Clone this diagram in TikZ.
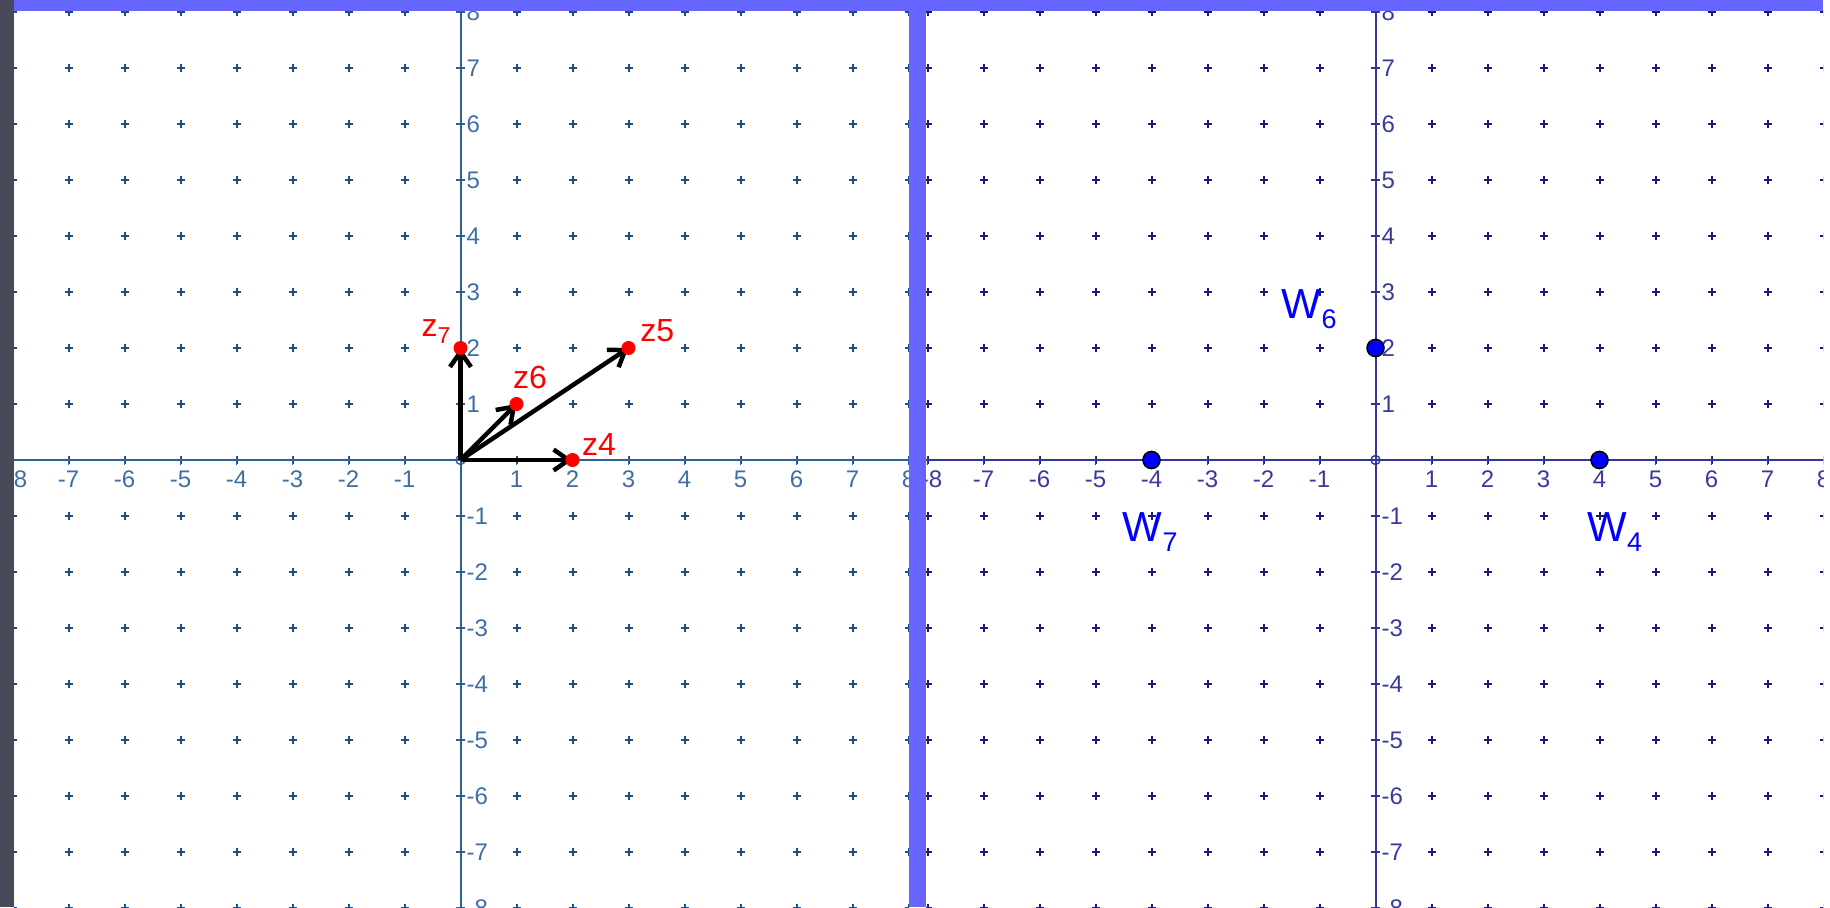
\documentclass[tikz,border=0pt]{standalone}
\usepackage{fontspec}
\setmainfont{Liberation Sans}
\usetikzlibrary{arrows.meta}
\definecolor{darkbar}{HTML}{484A5A}
\definecolor{barc}{HTML}{6666FF}
\definecolor{axLc}{HTML}{2D5F9B}
\definecolor{gridLc}{HTML}{1E4C85}
\definecolor{labLc}{HTML}{3F6FA5}
\definecolor{axRc}{HTML}{34349A}
\definecolor{gridRc}{HTML}{1C1C80}
\definecolor{labRc}{HTML}{3A3A9E}
\definecolor{zred}{HTML}{FF0000}
\definecolor{wblue}{HTML}{0000FF}
\begin{document}
\begin{tikzpicture}[x=1pt,y=-1pt,
  gridL/.style={draw=gridLc,line width=2pt},
  gridR/.style={draw=gridRc,line width=2pt},
  axL/.style={draw=axLc,line width=2pt},
  axR/.style={draw=axRc,line width=2pt},
  ticklabL/.style={text=labLc,inner sep=0pt,font=\fontsize{24}{24}\selectfont},
  ticklabR/.style={text=labRc,inner sep=0pt,font=\fontsize{24}{24}\selectfont},
  vec/.style={draw=black,line width=4.5pt,-{Straight Barb[length=15pt,width=21pt]}},
  zdot/.style={circle,fill=zred,inner sep=0pt,minimum size=14pt},
  wdot/.style={circle,fill=wblue,draw=black,line width=1.6pt,inner sep=0pt,minimum size=17pt},
  zlab/.style={text=zred,inner sep=0pt,anchor=base west,font=\fontsize{32}{32}\selectfont},
  wlab/.style={text=wblue,inner sep=0pt,anchor=base west,font=\fontsize{42}{42}\selectfont}]
\useasboundingbox (0,0) rectangle (1830,907);
\fill[white] (0,0) rectangle (1830,907);

% ---------------- left panel ----------------
\begin{scope}
\clip (14,11) rectangle (909,907);
\begin{scope}[shift={(460.5,460)},x=56pt,y=56pt]
  \foreach \i in {-8,...,8}{\foreach \j in {-8,...,8}{
    \draw[gridL] (\i,\j) ++(-4pt,0) -- ++(8pt,0);
    \draw[gridL] (\i,\j) ++(0,-4pt) -- ++(0,8pt);}}
  \draw[axL] (-9,0) -- (9,0);
  \draw[axL] (0,-9) -- (0,9);
  \foreach \i in {-8,...,8}{
    \draw[axL,line width=1.8pt] (\i,0) ++(0,-4.5pt) -- ++(0,9pt);
    \draw[axL,line width=1.8pt] (0,\i) ++(-4.5pt,0) -- ++(9pt,0);}
  \draw[axL,line width=1.4pt] (0,0) circle[radius=4.5pt];
  \foreach \i in {-7,...,-1,1,2,...,8}{
    \node[ticklabL,anchor=north,yshift=-11pt] (lxL\i) at (\i,0) {\i};}
  \node[ticklabL,anchor=north west,yshift=-11pt,xshift=-6.8pt] (lxLm8) at (-8,0) {-8};
  \foreach \j in {-8,...,-1,1,2,...,8}{
    \node[ticklabL,anchor=west,xshift=6pt] (lyL\j) at (0,\j) {\j};}
  % vectors
  \coordinate (O) at (0,0);
  \coordinate (Z4) at (2,0);
  \coordinate (Z5) at (3,2);
  \coordinate (Z6) at (1,1);
  \coordinate (Z7) at (0,2);
  \draw[vec] (O) -- (Z4);
  \draw[vec] (O) -- (Z5);
  \draw[vec] (O) -- (Z6);
  \draw[vec] (O) -- (Z7);
  \node[zdot] (Z4d) at (Z4) {};
  \node[zdot] (Z5d) at (Z5) {};
  \node[zdot] (Z6d) at (Z6) {};
  \node[zdot] (Z7d) at (Z7) {};
  \node[zlab] (Z7l) at (-0.70,2.20) {z\raisebox{-6.6pt}{\fontsize{23}{23}\selectfont 7}};
  \node[zlab] (Z6l) at (0.935,1.28) {z6};
  \node[zlab] (Z5l) at (3.21,2.11) {z5};
  \node[zlab] (Z4l) at (2.17,0.089) {z4};
\end{scope}
\end{scope}

% ---------------- right panel ----------------
\begin{scope}
\clip (926,11) rectangle (1823,907);
\begin{scope}[shift={(1375.5,460)},x=56pt,y=56pt]
  \foreach \i in {-8,...,8}{\foreach \j in {-8,...,8}{
    \draw[gridR] (\i,\j) ++(-4pt,0) -- ++(8pt,0);
    \draw[gridR] (\i,\j) ++(0,-4pt) -- ++(0,8pt);}}
  \draw[axR] (-9,0) -- (9,0);
  \draw[axR] (0,-9) -- (0,9);
  \foreach \i in {-8,...,8}{
    \draw[axR,line width=1.8pt] (\i,0) ++(0,-4.5pt) -- ++(0,9pt);
    \draw[axR,line width=1.8pt] (0,\i) ++(-4.5pt,0) -- ++(9pt,0);}
  \draw[axR,line width=1.4pt] (0,0) circle[radius=4.5pt];
  \foreach \i in {-7,...,-1,1,2,...,8}{
    \node[ticklabR,anchor=north,yshift=-11pt] (lxR\i) at (\i,0) {\i};}
  \node[ticklabR,anchor=north west,yshift=-11pt,xshift=-6.8pt] (lxRm8) at (-8,0) {-8};
  \foreach \j in {-8,...,-1,1,2,...,8}{
    \node[ticklabR,anchor=west,xshift=6pt] (lyR\j) at (0,\j) {\j};}
  \node[wdot] (W6) at (0,2) {};
  \node[wdot] (W7) at (-4,0) {};
  \node[wdot] (W4) at (4,0) {};
  \node[wlab] (W6l) at (-1.675,2.53) {W\raisebox{-10pt}{\fontsize{27}{27}\selectfont 6}};
  \node[wlab] (W7l) at (-4.514,-1.459) {W\raisebox{-10pt}{\fontsize{27}{27}\selectfont 7}};
  \node[wlab] (W4l) at (3.782,-1.459) {W\raisebox{-10pt}{\fontsize{27}{27}\selectfont 4}};
\end{scope}
\end{scope}

% ---------------- frame bars ----------------
\fill[darkbar] (0,0) rectangle (14,907);
\fill[barc] (14,0) rectangle (1823,11);
\fill[barc] (909,0) rectangle (926,907);
\end{tikzpicture}
\end{document}
